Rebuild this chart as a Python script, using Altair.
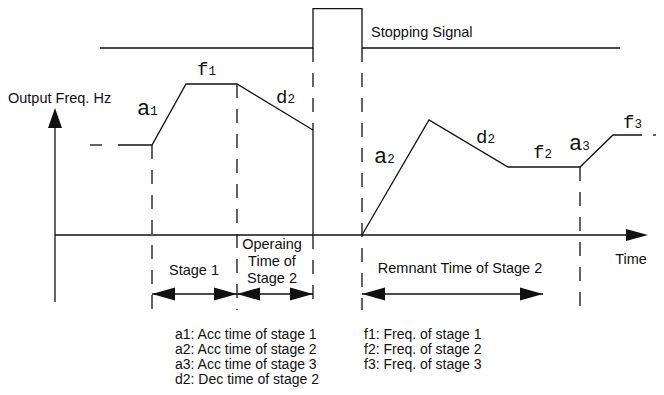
import altair as alt
import pandas as pd

# ---------------- diagram values (x = time position, y = level position) ----------------
# output-frequency waveform before the stopping signal
wave1_x = [118, 152, 186, 237, 313, 313]
wave1_y = [145, 145, 84, 84, 130, 235]
# waveform after the stopping signal (remnant time of stage 2 and stage 3)
wave2_x = [362, 429, 508, 580, 613, 642]
wave2_y = [235, 120, 167, 167, 135, 135]
# leading / trailing dashes of the waveform
lead_x = [90, 102]
lead_y = [145, 145]
trail_x = [653, 664]
trail_y = [135, 135]
# stopping signal pulse
stop_x = [100, 313, 313, 362, 362, 620]
stop_y = [48, 48, 8.7, 8.7, 48, 48]
# axes
yaxis_x = [55, 55]
yaxis_y = [302, 118]
taxis_x = [55, 640]
taxis_y = [235, 235]

# dashed vertical guide lines
guide_x = [152, 237, 313, 313, 362, 580]
guide_top = [145, 84, 48, 235, 48, 167]
guide_bottom = [310, 310, 130, 310, 310, 310]

# dimension arrows (stage 1, operating time of stage 2, remnant time of stage 2)
dim_start = [152, 237, 362]
dim_end = [237, 313, 543]
dim_level = 294

# curve labels: letter + subscript digit
label_letter = ["a", "f", "d", "a", "d", "f", "a", "f"]
label_digit = ["1", "1", "2", "2", "2", "2", "3", "3"]
label_x = [137, 197, 276, 374, 476, 533, 569, 623]
label_y = [115, 75, 103, 163, 143, 158, 150, 128]

# plain texts
text_left = ["Output Freq. Hz", "Stopping Signal"]
text_left_x = [8, 371]
text_left_y = [103, 37]

legend_left = ["a1: Acc time of stage 1", "a2: Acc time of stage 2",
               "a3: Acc time of stage 3", "d2: Dec time of stage 2"]
legend_right = ["f1: Freq. of stage 1", "f2: Freq. of stage 2", "f3: Freq. of stage 3"]
legend_left_x = 175
legend_right_x = 364
legend_y = [339, 354, 369, 384]

text_center = ["Stage 1", "Operaing", "Time of", "Stage 2",
               "Remnant Time of Stage 2", "Time"]
text_center_x = [194, 272, 272, 272, 460, 631]
text_center_y = [275, 249, 266, 283, 273, 264]

# ---------------- build tables ----------------
xs = alt.Scale(domain=[8, 656], nice=False, zero=False)
ys = alt.Scale(domain=[8, 387], nice=False, zero=False, reverse=True)
X = lambda f: alt.X(f, scale=xs, axis=None)
Y = lambda f: alt.Y(f, scale=ys, axis=None)

rows = []
for gname, gx, gy in [("wave1", wave1_x, wave1_y), ("wave2", wave2_x, wave2_y),
                      ("lead", lead_x, lead_y), ("trail", trail_x, trail_y),
                      ("stop", stop_x, stop_y), ("yaxis", yaxis_x, yaxis_y),
                      ("taxis", taxis_x, taxis_y)]:
    for i, (a, b) in enumerate(zip(gx, gy)):
        rows.append({"g": gname, "o": i, "x": a, "y": b})
lines_df = pd.DataFrame(rows)

guides_df = pd.DataFrame({"x": guide_x, "y": guide_top, "y2": guide_bottom})
dims_df = pd.DataFrame({"x": dim_start, "x2": dim_end, "y": [dim_level] * len(dim_start)})

RIGHT = "M1,0L-1,-0.57L-1,0.57Z"
LEFT = "M-1,0L1,-0.57L1,0.57Z"
UP = "M0,-1L0.7,1L-0.7,1Z"
heads = []
for s, e in zip(dim_start, dim_end):
    heads.append({"x": s + 11.5, "y": dim_level, "shape": LEFT, "size": 529})
    heads.append({"x": e - 11.5, "y": dim_level, "shape": RIGHT, "size": 529})
heads.append({"x": yaxis_x[0], "y": yaxis_y[1], "shape": UP, "size": 400})
heads.append({"x": taxis_x[1] - 3, "y": taxis_y[1], "shape": "M1,0L-1,-0.55L-1,0.55Z", "size": 484})
heads_df = pd.DataFrame(heads)

lab_rows = []
for L, D, lx, ly in zip(label_letter, label_digit, label_x, label_y):
    fs = 22 if L == "a" else 19
    lab_rows.append({"t": L, "x": lx, "y": ly, "fs": fs})
    lab_rows.append({"t": D, "x": lx + fs * 0.6, "y": ly, "fs": 12.5})
labels_df = pd.DataFrame(lab_rows)

tl_df = pd.DataFrame({"t": text_left, "x": text_left_x, "y": text_left_y})
tc_df = pd.DataFrame({"t": text_center, "x": text_center_x, "y": text_center_y})
leg_df = pd.DataFrame({
    "t": legend_left + legend_right,
    "x": [legend_left_x] * len(legend_left) + [legend_right_x] * len(legend_right),
    "y": legend_y[:len(legend_left)] + legend_y[:len(legend_right)],
})

INK = "#111111"
SW = 1.3

lines = alt.Chart(lines_df).mark_line(color=INK, strokeWidth=SW).encode(
    x=X("x:Q"), y=Y("y:Q"), detail="g:N", order="o:Q")
guides = alt.Chart(guides_df).mark_rule(color=INK, strokeWidth=SW, strokeDash=[14, 11]).encode(
    x=X("x:Q"), y=Y("y:Q"), y2="y2:Q")
dims = alt.Chart(dims_df).mark_rule(color=INK, strokeWidth=SW).encode(
    x=X("x:Q"), x2="x2:Q", y=Y("y:Q"))
arrows = alt.Chart(heads_df).mark_point(filled=True, opacity=1, color=INK, strokeWidth=0).encode(
    x=X("x:Q"), y=Y("y:Q"),
    shape=alt.Shape("shape:N", scale=None, legend=None),
    size=alt.Size("size:Q", scale=None, legend=None))
labels = alt.Chart(labels_df).mark_text(font="Liberation Mono", align="left",
                                        baseline="alphabetic", color=INK).encode(
    x=X("x:Q"), y=Y("y:Q"), text="t:N", size=alt.Size("fs:Q", scale=None, legend=None))
tl = alt.Chart(tl_df).mark_text(font="Liberation Sans", fontSize=14.5, align="left",
                                baseline="alphabetic", color=INK).encode(
    x=X("x:Q"), y=Y("y:Q"), text="t:N")
tc = alt.Chart(tc_df).mark_text(font="Liberation Sans", fontSize=14.5, align="center",
                                baseline="alphabetic", color=INK).encode(
    x=X("x:Q"), y=Y("y:Q"), text="t:N")
leg = alt.Chart(leg_df).mark_text(font="Liberation Sans", fontSize=14, align="left",
                                  baseline="alphabetic", color=INK).encode(
    x=X("x:Q"), y=Y("y:Q"), text="t:N")

chart = alt.layer(lines, guides, dims, arrows, labels, tl, tc, leg).properties(
    width=648, height=379, padding=0,
    autosize=alt.AutoSizeParams(type="none"),
    background="white",
).configure_view(strokeWidth=0)

chart.save("out.html", embed_options={"renderer": "svg", "actions": False})
